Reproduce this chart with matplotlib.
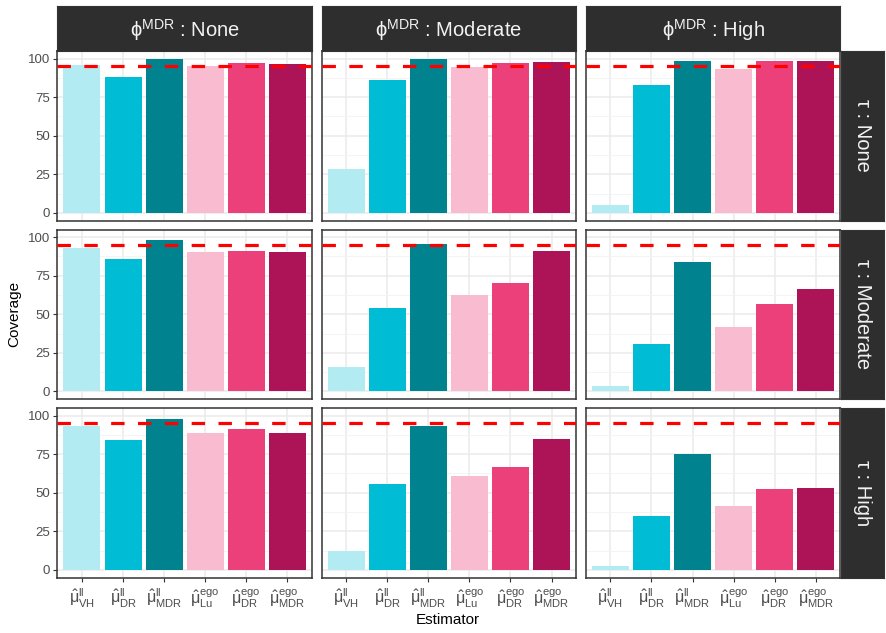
import matplotlib
matplotlib.use('Agg')
import matplotlib.pyplot as plt
from matplotlib.ticker import FixedLocator

plt.rcParams['font.family'] = ['Liberation Sans', 'DejaVu Sans']
plt.rcParams['mathtext.fontset'] = 'custom'
plt.rcParams['mathtext.rm'] = 'Liberation Sans'
plt.rcParams['mathtext.it'] = 'Liberation Sans:italic'
plt.rcParams['mathtext.bf'] = 'Liberation Sans:bold'
plt.rcParams['mathtext.fallback'] = 'stixsans'

# ---------------- data ----------------
estimators = ['VH_ll', 'DR_ll', 'MDR_ll', 'Lu_ego', 'DR_ego', 'MDR_ego']
tick_labels = [r'$\hat{\mathrm{μ}}^{\mathrm{ll}}_{\mathrm{VH}}$',
               r'$\hat{\mathrm{μ}}^{\mathrm{ll}}_{\mathrm{DR}}$',
               r'$\hat{\mathrm{μ}}^{\mathrm{ll}}_{\mathrm{MDR}}$',
               r'$\hat{\mathrm{μ}}^{\mathrm{ego}}_{\mathrm{Lu}}$',
               r'$\hat{\mathrm{μ}}^{\mathrm{ego}}_{\mathrm{DR}}$',
               r'$\hat{\mathrm{μ}}^{\mathrm{ego}}_{\mathrm{MDR}}$']
phi_levels = ['None', 'Moderate', 'High']
tau_levels = ['None', 'Moderate', 'High']
bar_colors = ['#B2EBF2', '#00BCD4', '#00838F', '#F8BBD0', '#EC407A', '#AD1457']

# coverage[tau][phi] -> values per estimator
cov_tau_none = [[95.7, 88.2, 100.0, 95.0, 97.0, 96.3],
                [28.1, 86.0, 99.5, 94.3, 96.9, 97.6],
                [4.9, 82.8, 98.8, 93.0, 98.2, 98.8]]
cov_tau_moderate = [[93.0, 85.9, 98.0, 90.4, 91.0, 90.4],
                    [15.9, 53.8, 95.6, 62.2, 70.5, 91.1],
                    [3.7, 30.7, 84.0, 41.6, 56.4, 66.7]]
cov_tau_high = [[93.0, 84.2, 97.6, 88.7, 91.3, 88.7],
                [12.3, 56.0, 93.0, 60.6, 67.0, 85.0],
                [2.4, 35.2, 75.0, 41.6, 52.5, 53.2]]
coverage = [cov_tau_none, cov_tau_moderate, cov_tau_high]
nominal = 95

# ---------------- layout ----------------
W, H = 886, 633
fig = plt.figure(figsize=(W / 100, H / 100), dpi=100)

def ax_px(x0, y0, w, h):
    return fig.add_axes([x0 / W, 1 - (y0 + h) / H, w / W, h / H])

col_left = [57.3, 321.5, 585.7]
pw = 254.7
row_top = [51.0, 229.5, 408.0]
ph = 169.5
strip_top = 5.5
strip_h = row_top[0] - strip_top
rstrip_left = 841.0
rstrip_w = 42.5
strip_col = '#2E2E2E'
grey30 = '#4D4D4D'
grey20 = '#333333'

x = list(range(1, len(estimators) + 1))

for r in range(3):
    for c in range(3):
        ax = ax_px(col_left[c], row_top[r], pw, ph)
        vals = coverage[r][c]
        ax.bar(x, vals, width=0.9, color=bar_colors, zorder=2)
        ax.axhline(nominal, color='#FF0000', lw=2.3, dashes=(4.2, 4.2), zorder=3)
        ax.set_xlim(0.4, 6.6)
        ax.set_ylim(-5, 105)
        ax.yaxis.set_major_locator(FixedLocator([0, 25, 50, 75, 100]))
        ax.yaxis.set_minor_locator(FixedLocator([12.5, 37.5, 62.5, 87.5]))
        ax.xaxis.set_major_locator(FixedLocator(x))
        ax.grid(which='major', color='#EBEBEB', lw=1.1, zorder=0)
        ax.grid(which='minor', axis='y', color='#F3F3F3', lw=0.6, zorder=0)
        ax.set_axisbelow(True)
        for s in ax.spines.values():
            s.set_color(grey20)
            s.set_linewidth(1.1)
        ax.tick_params(which='minor', length=0)
        ax.tick_params(which='major', length=3, width=0.8, color=grey20,
                       labelcolor=grey30, labelsize=9.5, pad=2)
        if c == 0:
            ax.set_yticklabels(['0', '25', '50', '75', '100'])
        else:
            ax.tick_params(axis='y', length=0, labelleft=False)
        if r == 2:
            ax.set_xticklabels(tick_labels, fontsize=11.5)
            ax.tick_params(axis='x', pad=4)
        else:
            ax.tick_params(axis='x', length=0, labelbottom=False)

# top strips
for c in range(3):
    sa = ax_px(col_left[c], strip_top, pw, strip_h)
    sa.set_facecolor(strip_col)
    sa.set_xticks([]); sa.set_yticks([])
    for s in sa.spines.values():
        s.set_color(grey20)
    sa.text(0.5, 0.45, r'$\mathrm{ϕ}^{\mathrm{MDR}}$ : ' + phi_levels[c], color='#F2F2F2',
            fontsize=14.5, ha='center', va='center', transform=sa.transAxes)

# right strips
for r in range(3):
    sa = ax_px(rstrip_left, row_top[r], rstrip_w, ph)
    sa.set_facecolor(strip_col)
    sa.set_xticks([]); sa.set_yticks([])
    for s in sa.spines.values():
        s.set_color(grey20)
    sa.text(0.5, 0.5, 'τ : ' + tau_levels[r], color='#F2F2F2', fontsize=14.5,
            ha='center', va='center', rotation=-90, transform=sa.transAxes)

fig.text(14 / W, 1 - 314 / H, 'Coverage', rotation=90, ha='center', va='center',
         fontsize=11, color='black')
fig.text(448 / W, 1 - 620 / H, 'Estimator', ha='center', va='center',
         fontsize=11, color='black')

fig.savefig('out.png', dpi=100, facecolor='white')
